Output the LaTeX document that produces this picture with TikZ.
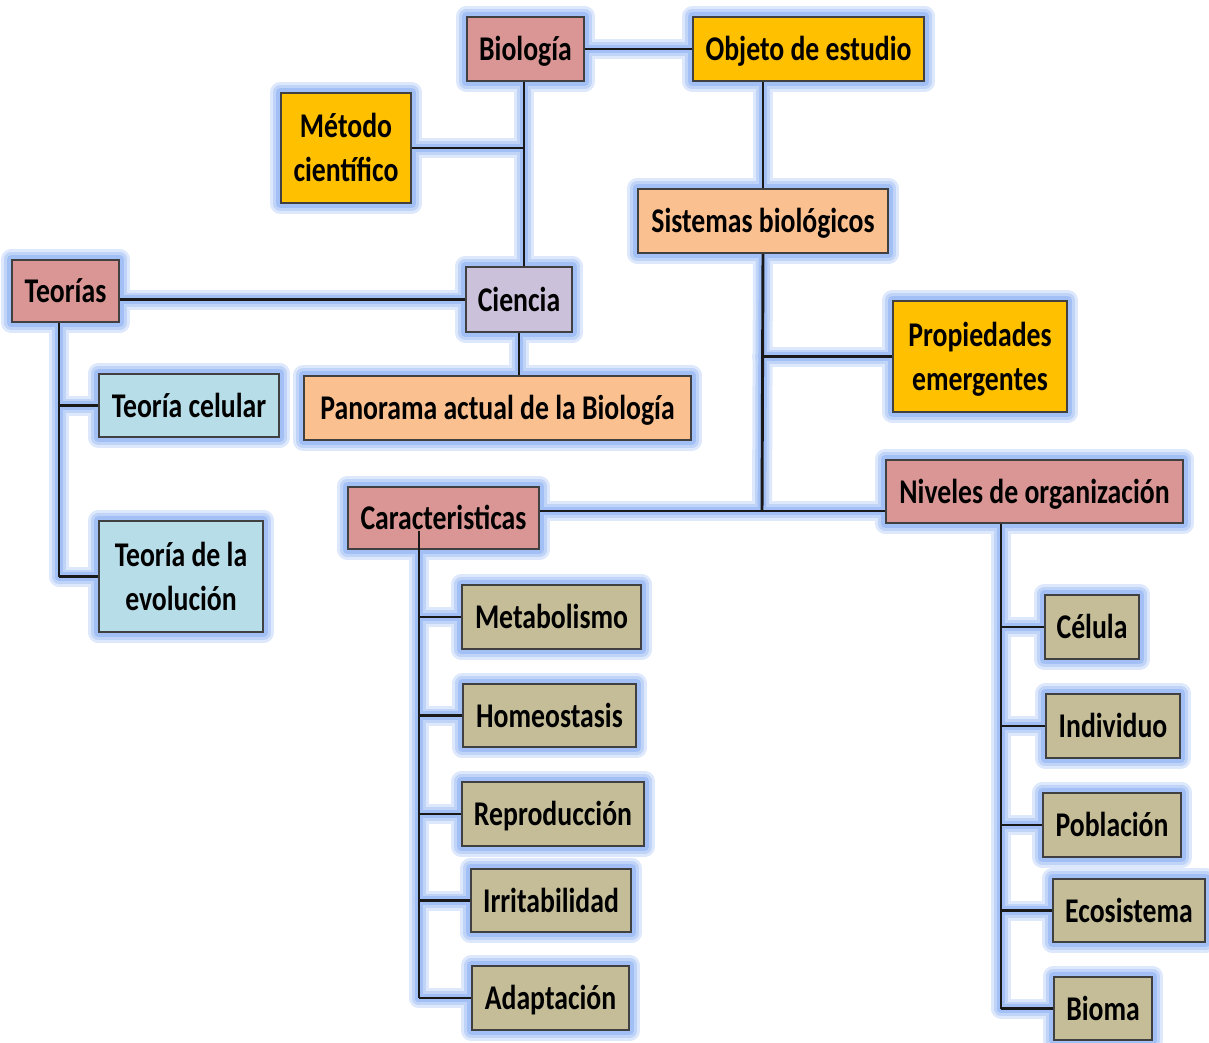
\documentclass[tikz,border=0pt]{standalone}
\usepackage{fontspec}
\newfontfamily\boxfont{Carlito}[FakeStretch=0.8]
\pgfdeclarelayer{glowA}
\pgfdeclarelayer{glowB}
\pgfdeclarelayer{glowC}
\pgfdeclarelayer{wires}
\pgfsetlayers{glowA,glowB,glowC,wires,main}

\definecolor{pinkc}{HTML}{D99694}
\definecolor{goldc}{HTML}{FFC000}
\definecolor{peachc}{HTML}{FAC090}
\definecolor{lilacc}{HTML}{CCC1DA}
\definecolor{skyc}{HTML}{B7DEE8}
\definecolor{tanc}{HTML}{C4BD97}
\definecolor{edgec}{HTML}{404040}
\definecolor{haloA}{HTML}{DDE8FC}
\definecolor{haloB}{HTML}{C0D4F8}
\definecolor{haloC}{HTML}{A2C0F5}

\tikzset{
  box/.style={draw=edgec, line width=1.1pt, inner sep=0pt,
    font=\boxfont\bfseries\fontsize{26}{33}\selectfont, text=black},
  wire/.style={line width=2.2pt, draw=black!90},
  halo/.style={line cap=round, line join=round}
}

% soft blue halo along a path, built from three graded strokes
\newcommand\glowpath[1]{%
  \begin{pgfonlayer}{glowA}\draw[halo, draw=haloA, line width=15pt] #1;\end{pgfonlayer}%
  \begin{pgfonlayer}{glowB}\draw[halo, draw=haloB, line width=10.5pt] #1;\end{pgfonlayer}%
  \begin{pgfonlayer}{glowC}\draw[halo, draw=haloC, line width=6.5pt] #1;\end{pgfonlayer}}
% connector with its halo underneath
\newcommand\wire[1]{%
  \glowpath{#1}%
  \begin{pgfonlayer}{wires}\draw[wire] #1;\end{pgfonlayer}}
% box given by its corners (x1,y1) (x2,y2); label set a little low
\newcommand\bx[7]{%
  \node[box, fill=#6, minimum width={(#4-#2)*0.75pt}, minimum height={(#5-#3)*0.75pt}]
    (#1) at ({(#2+#4)/2},{(#3+#5)/2})
    {\raisebox{-2.2pt}[\height][\depth]{\begin{tabular}{@{}c@{}}#7\end{tabular}}};}

\begin{document}
\begin{tikzpicture}[x=0.75pt, y=-0.75pt]
\useasboundingbox (0,0) rectangle (1209,1042);

% top concepts
\bx{bio}{467}{17}{584}{81}{pinkc}{Biología}
\bx{obj}{693}{17}{924}{81}{goldc}{Objeto de estudio}
\bx{met}{281}{93}{411}{203}{goldc}{Método\\científico}
\bx{sis}{638}{189}{888}{253}{peachc}{Sistemas biológicos}
\bx{teo}{12}{260}{119}{322}{pinkc}{Teorías}
\bx{cie}{466}{267}{572}{332}{lilacc}{Ciencia}
\bx{pan}{304}{376}{691}{440}{peachc}{Panorama actual de la Biología}
\bx{tcel}{99}{374}{279}{437}{skyc}{Teoría celular}
\bx{tevo}{99}{521}{263}{632}{skyc}{Teoría de la\\evolución}
\bx{pro}{893}{301}{1067}{412}{goldc}{Propiedades\\emergentes}
\bx{car}{348}{487}{539}{549}{pinkc}{Caracteristicas}
\bx{niv}{886}{460}{1183}{523}{pinkc}{Niveles de organización}

% characteristics
\bx{c1}{462}{585}{641}{649}{tanc}{Metabolismo}
\bx{c2}{463}{684}{636}{747}{tanc}{Homeostasis}
\bx{c3}{462}{782}{644}{846}{tanc}{Reproducción}
\bx{c4}{471}{869}{631}{932}{tanc}{Irritabilidad}
\bx{c5}{472}{966}{629}{1030}{tanc}{Adaptación}

% levels of organisation
\bx{n1}{1045}{595}{1139}{659}{tanc}{Célula}
\bx{n2}{1046}{694}{1180}{758}{tanc}{Individuo}
\bx{n3}{1043}{793}{1181}{857}{tanc}{Población}
\bx{n4}{1053}{879}{1205}{942}{tanc}{Ecosistema}
\bx{n5}{1054}{977}{1152}{1040}{tanc}{Bioma}

% halos round the boxes
\foreach \n in {bio,obj,met,sis,teo,cie,pan,tcel,tevo,pro,car,niv,c1,c2,c3,c4,c5,n1,n2,n3,n4,n5}{
  \glowpath{(\n.south west) rectangle (\n.north east)}}

% junction points
\coordinate (hub) at (762,511);
\coordinate (tv) at (59,322);
\coordinate (cv) at (419,531);
\coordinate (nv) at (1001,523);
\coordinate (bv) at (524,81);

% connectors
\wire{(bio.east) -- (obj.west)}
\wire{(bv) -- (bv |- cie.north)}
\wire{(met.east) -- (met.east -| bv)}
\wire{(sis.north) -- (sis.north |- obj.south)}
\wire{(cie.west) -- (cie.west -| teo.east)}
\wire{(cie.south) -- (cie.south |- pan.north)}
\wire{(tv) -- (tv |- tevo.west)}
\wire{(tcel.west) -- (tcel.west -| tv)}
\wire{(tevo.west) -- (tevo.west -| tv)}
\wire{(sis.south) -- (hub)}
\wire{(pro.west) -- (pro.west -| hub)}
\wire{(car.east |- hub) -- (niv.west |- hub)}
\wire{(nv) -- (nv |- n5.west)}
\foreach \k in {n1,n2,n3,n4,n5}{\wire{(\k.west) -- (\k.west -| nv)}}
\foreach \k in {c1,c2,c3,c4,c5}{\wire{(\k.west) -- (\k.west -| cv)}}
% this trunk starts inside its box, so it is drawn on top
\glowpath{(car.south -| cv) -- (cv |- c5.west)}
\draw[wire] (cv) -- (cv |- c5.west);
\end{tikzpicture}
\end{document}
